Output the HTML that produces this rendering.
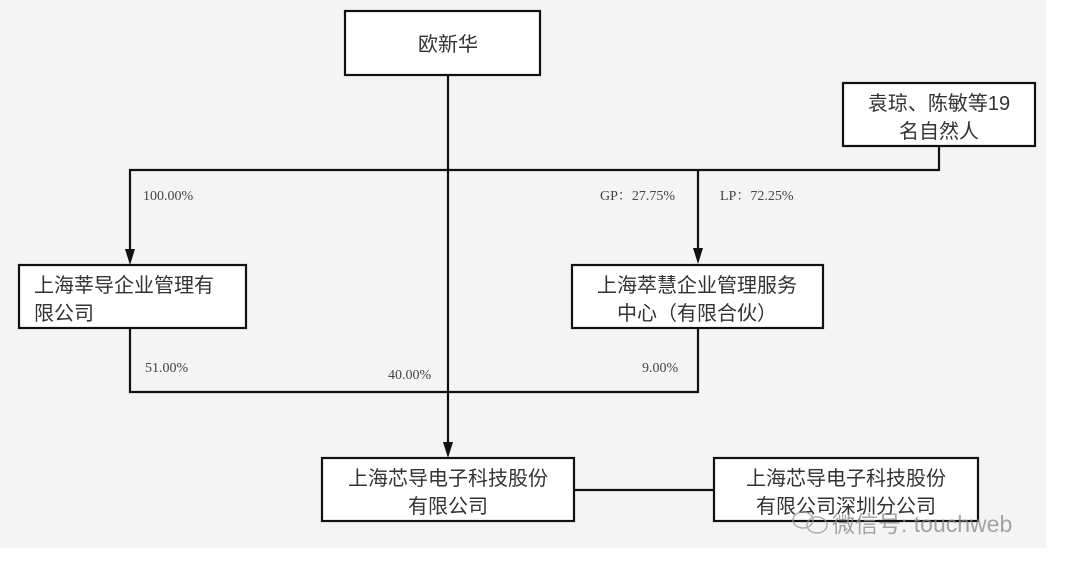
<!DOCTYPE html>
<html><head><meta charset="utf-8"><style>
html,body{margin:0;padding:0;background:#fff}
svg{display:block}
.cn{font-family:"Liberation Sans","Noto Sans CJK SC",sans-serif;font-size:20px;fill:#333}
.pc{font-family:"Liberation Serif","Noto Serif CJK SC",serif;font-size:14px;fill:#444}
</style></head><body>
<svg width="1080" height="568" viewBox="0 0 1080 568" xmlns="http://www.w3.org/2000/svg">
<rect x="0" y="0" width="1046" height="548" fill="#f4f4f4"/>
<g stroke="#111" stroke-width="2.2" fill="none">
<line x1="448" y1="75" x2="448" y2="446"/>
<polyline points="130,252 130,170 939,170 939,146" />
<line x1="698" y1="170" x2="698" y2="252"/>
<polyline points="130,328 130,392 698,392 698,328"/>
<line x1="574" y1="490" x2="714" y2="490"/>
</g>
<g fill="#111">
<path d="M125,249 L135,249 L130,265 Z"/>
<path d="M693,248 L703,248 L698,264 Z"/>
<path d="M443,442 L453,442 L448,458 Z"/>
</g>
<g stroke="#111" stroke-width="2.2" fill="#fff">
<rect x="345" y="11" width="195" height="64"/>
<rect x="843" y="83" width="192" height="63"/>
<rect x="19" y="265" width="227" height="63"/>
<rect x="572" y="265" width="251" height="63"/>
<rect x="322" y="458" width="252" height="63"/>
<rect x="714" y="458" width="264" height="63"/>
</g>
<text class="cn" x="448" y="51" text-anchor="middle">欧新华</text>
<text class="cn" x="939" y="110" text-anchor="middle">袁琼、陈敏等19</text>
<text class="cn" x="939" y="138" text-anchor="middle">名自然人</text>
<text class="cn" x="34" y="292">上海莘导企业管理有</text>
<text class="cn" x="34" y="320">限公司</text>
<text class="cn" x="697" y="292" text-anchor="middle">上海萃慧企业管理服务</text>
<text class="cn" x="697" y="320" text-anchor="middle">中心（有限合伙）</text>
<text class="cn" x="448" y="485" text-anchor="middle">上海芯导电子科技股份</text>
<text class="cn" x="448" y="513" text-anchor="middle">有限公司</text>
<text class="cn" x="846" y="485" text-anchor="middle">上海芯导电子科技股份</text>
<text class="cn" x="846" y="513" text-anchor="middle">有限公司深圳分公司</text>
<text class="pc" x="143" y="200">100.00%</text>
<text class="pc" x="600" y="200">GP：27.75%</text>
<text class="pc" x="720" y="200">LP：72.25%</text>
<text class="pc" x="145" y="372">51.00%</text>
<text class="pc" x="388" y="379">40.00%</text>
<text class="pc" x="642" y="372">9.00%</text>
<g opacity="0.75">
<ellipse cx="803" cy="520" rx="10" ry="8" fill="none" stroke="#999" stroke-width="1.5"/>
<ellipse cx="817" cy="525" rx="10" ry="8" fill="none" stroke="#999" stroke-width="1.5"/>
<text x="832" y="532" font-family="Liberation Sans,Noto Sans CJK SC,sans-serif" font-size="23" fill="#888">微信号: touchweb</text>
</g>
</svg>
</body></html>
